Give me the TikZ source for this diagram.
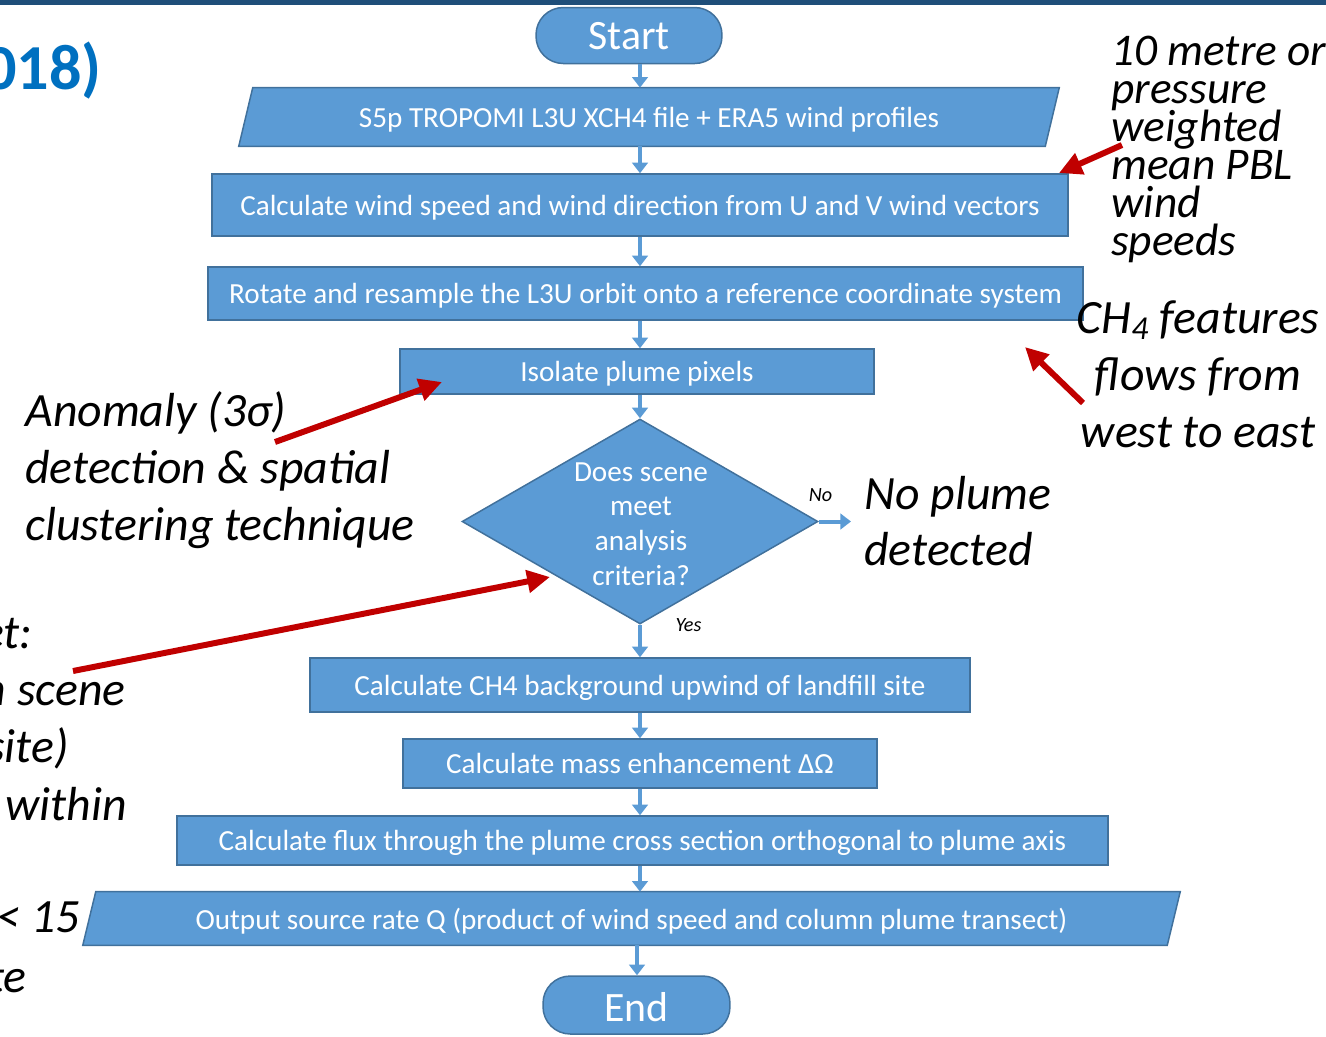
\documentclass[tikz,border=0pt]{standalone}
\usepackage{fontspec}
\setmainfont{Carlito}
\usetikzlibrary{arrows.meta,shapes.geometric,calc,backgrounds}
\definecolor{boxfill}{HTML}{5B9BD5}
\definecolor{boxline}{HTML}{41719C}
\definecolor{redarr}{HTML}{C00000}
\definecolor{topbar}{HTML}{1F4E79}
\definecolor{titleblue}{HTML}{0070C0}
\newcommand{\myboxfont}{\fontsize{16.6}{19.8}\selectfont}
\newcommand{\myannfont}{\fontsize{27.2}{32.3}\selectfont\itshape}
\newcommand{\myannsmall}{\fontsize{25.8}{21.5}\selectfont\itshape}
\begin{document}
\begin{tikzpicture}[x=0.02cm,y=-0.02cm,
  procbox/.style={rectangle, draw=boxline, fill=boxfill, line width=0.85pt, text=white, font=\myboxfont, inner sep=0pt, text height=12pt, text depth=0.6pt},
  paratext/.style={rectangle, text=white, font=\myboxfont, inner sep=0pt, text height=12.6pt, text depth=0.6pt},
  paradraw/.style={draw=boxline, fill=boxfill, line width=0.85pt, line join=miter},
  pill/.style={rectangle, rounded corners=15.5pt, draw=boxline, fill=boxfill, line width=0.85pt, text=white, font=\fontsize{23.8}{28}\selectfont, minimum width=3.72cm, minimum height=1.12cm, inner sep=0pt, text height=16.4pt, text depth=0pt},
  barrow/.style={draw=boxfill, line width=2.27pt, -{Triangle[width=8.8pt,length=6pt]}},
  rarrow/.style={draw=redarr, line width=3.4pt, -{Triangle[width=12.5pt,length=13pt]}},
  annA/.style={font=\myannsmall, inner sep=0pt, text=black, anchor=base west},
  annB/.style={font=\myannfont, inner sep=0pt, text=black},
  lab/.style={font=\fontsize{11.5}{13}\selectfont\itshape, inner sep=0pt, text=black}]
\useasboundingbox (0,0) rectangle (1326,1036);
\clip (0,0) rectangle (1326,1036);
\fill[topbar] (0,0) rectangle (1326,5);
\node[anchor=base east, font=\fontsize{36.5}{40}\selectfont\bfseries, text=titleblue, inner sep=0pt] (title) at (102,89) {018)};

% flow nodes
\node[pill] (start) at (629,35.5) {Start};
\node[paratext, minimum width=16.12cm, minimum height=1.16cm] (s5p) at (649,117) {S5p TROPOMI L3U XCH4 file + ERA5 wind profiles};
\node[procbox, minimum width=17.12cm, minimum height=1.24cm] (wind) at (640,205) {Calculate wind speed and wind direction from U and V wind vectors};
\node[procbox, minimum width=17.5cm, minimum height=1.06cm] (rot) at (645.5,293.5) {Rotate and resample the L3U orbit onto a reference coordinate system};
\node[procbox, minimum width=9.48cm, minimum height=0.9cm] (iso) at (637,371.5) {Isolate plume pixels};
\node[diamond, draw=boxline, fill=boxfill, line width=0.85pt, minimum width=7.12cm, minimum height=4.1cm, inner sep=0pt] (dia) at (640,521.5) {};
\node[align=center, text=white, font=\myboxfont, inner sep=0pt] (diat) at (641,524) {Does scene\\meet\\analysis\\criteria?};
\node[procbox, minimum width=13.2cm, minimum height=1.08cm] (bg) at (640,685) {Calculate CH4 background upwind of landfill site};
\node[procbox, minimum width=9.48cm, minimum height=0.98cm] (mass) at (640,763.5) {Calculate mass enhancement ΔΩ};
\node[procbox, minimum width=18.62cm, minimum height=0.98cm] (flux) at (642.5,840.5) {Calculate flux through the plume cross section orthogonal to plume axis};
\node[paratext, minimum width=21.68cm, minimum height=1.06cm] (out) at (631.5,918.5) {Output source rate Q (product of wind speed and column plume transect)};
\node[pill, minimum width=3.74cm, minimum height=1.16cm, text height=18.5pt] (end) at (636.5,1005) {End};

\begin{scope}[on background layer]
\draw[paradraw] ($(s5p.south west)+(-7,0)$) -- ($(s5p.north west)+(7,0)$) -- ($(s5p.north east)+(7,0)$) -- ($(s5p.south east)+(-7,0)$) -- cycle;
\draw[paradraw] ($(out.south west)+(-6.5,0)$) -- ($(out.north west)+(6.5,0)$) -- ($(out.north east)+(6.5,0)$) -- ($(out.south east)+(-6.5,0)$) -- cycle;
\end{scope}

% flow connectors
\coordinate (ax) at (640,0);
\coordinate (ax2) at (637,0);
\draw[barrow] (start.south -| ax) -- (s5p.north -| ax);
\draw[barrow] (s5p.south -| ax) -- (wind.north -| ax);
\draw[barrow] (wind.south -| ax) -- (rot.north -| ax);
\draw[barrow] (rot.south -| ax) -- (iso.north -| ax);
\draw[barrow] (iso.south -| ax) -- (dia.north);
\draw[barrow] (dia.south) -- (bg.north -| ax);
\draw[barrow] (bg.south -| ax) -- (mass.north -| ax);
\draw[barrow] (mass.south -| ax) -- (flux.north -| ax);
\draw[barrow] (flux.south -| ax) -- (out.north -| ax);
\draw[barrow] (out.south -| ax2) -- (end.north -| ax2);
\coordinate (noend) at (851,521.5);
\draw[barrow] (dia.east) -- (noend);
\node[lab] (nolab) at (820.5,495) {No};
\node[lab] (yeslab) at (688.5,625) {Yes};

% annotations
\node[annA] (a1) at (1111,65) {10 metre or};
\node[annA] (a2) at (1111,103) {pressure};
\node[annA] (a3) at (1111,141) {weighted};
\node[annA] (a4) at (1111,179) {mean PBL};
\node[annA] (a5) at (1111,217) {wind};
\node[annA] (a6) at (1111,255) {speeds};

\node[annB, anchor=base] (b1) at (1198,333) {CH\textsubscript{4} features};
\node[annB, anchor=base] (b2) at (1198,390) {flows from};
\node[annB, anchor=base] (b3) at (1198,447) {west to east};

\node[annB, anchor=base west] (c1) at (25,426) {Anomaly (3σ)};
\node[annB, anchor=base west] (c2) at (25,483) {detection \& spatial};
\node[annB, anchor=base west] (c3) at (25,540) {clustering technique};

\node[annB, anchor=base west] (d1) at (864,509) {No plume};
\node[annB, anchor=base west] (d2) at (864,565) {detected};

\node[annB, anchor=base east] (e1) at (33,648) {et:};
\node[annB, anchor=base east] (e2) at (126,705) {n scene};
\node[annB, anchor=base east] (e3) at (69,762) {site)};
\node[annB, anchor=base east] (e4) at (127,820) {within};
\node[annB, anchor=base east] (e5) at (80,932) {< 15};
\node[annB, anchor=base east] (e6) at (27,992) {te};

% red pointer arrows
\coordinate (r1a) at (1122,145); \coordinate (r1b) at (1059,173);
\coordinate (r2a) at (1083,403); \coordinate (r2b) at (1025,347);
\coordinate (r3a) at (275,442);  \coordinate (r3b) at (442,382);
\coordinate (r4a) at (73,671);   \coordinate (r4b) at (550,577);
\draw[rarrow] (r1a) -- (r1b);
\draw[rarrow] (r2a) -- (r2b);
\draw[rarrow] (r3a) -- (r3b);
\draw[rarrow] (r4a) -- (r4b);
\end{tikzpicture}
\end{document}
